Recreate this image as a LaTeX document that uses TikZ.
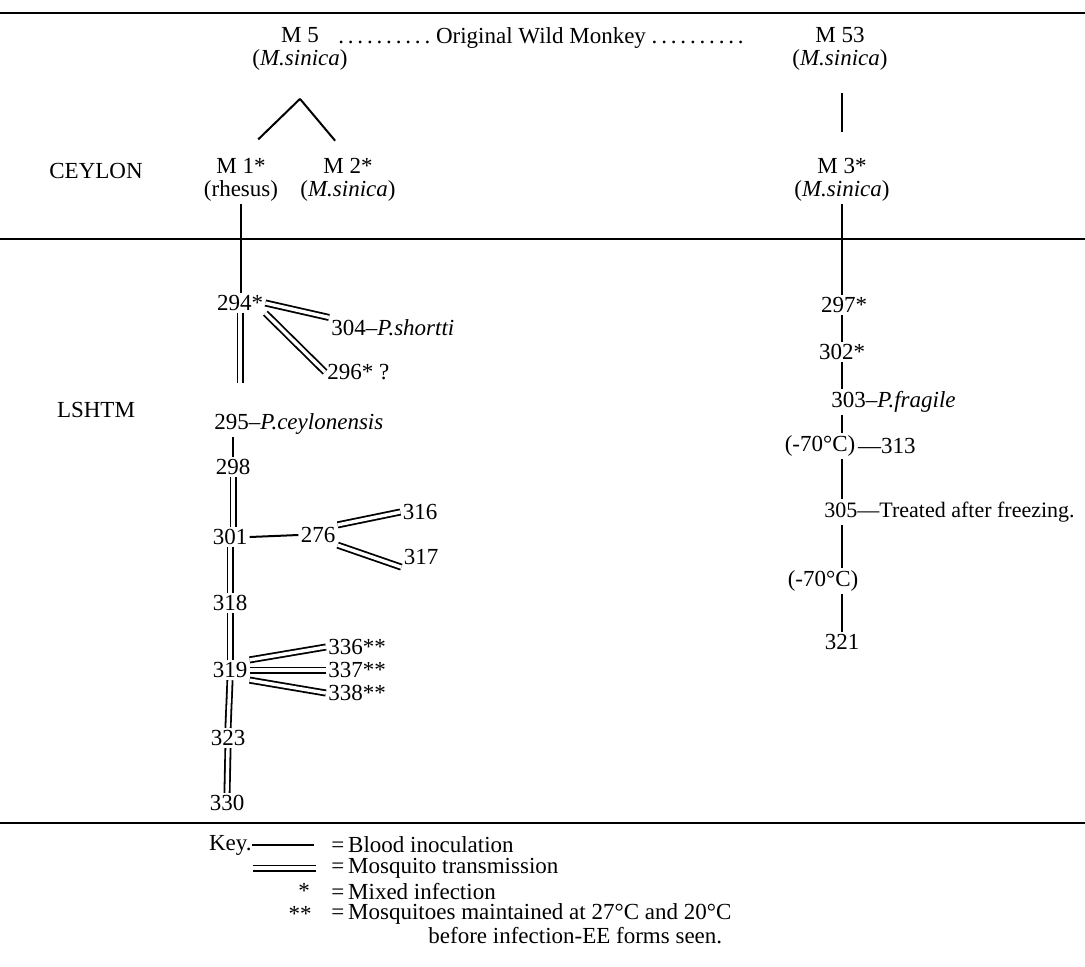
\documentclass[tikz,border=0pt]{standalone}
\usepackage{fontspec}
\setmainfont{Liberation Serif}
\usetikzlibrary{positioning}
\newcommand{\leaderdots}{.\,.\,.\,.\,.\,.\,.\,.\,.\,.}

\begin{document}
\begin{tikzpicture}[x=0.5pt, y=-0.5pt,
  lbl/.style={inner sep=1pt, font=\fontsize{11.5}{11.5}\selectfont, align=center},
  keytext/.style={lbl, inner sep=0pt, anchor=west},
  blood/.style={line width=1pt},
  mosq/.style={double, double distance=1.7pt, line width=0.9pt},
  rule/.style={line width=1.1pt}
]
  \useasboundingbox (0,0) rectangle (1085,966);

  % rules between the sections
  \draw[rule] (0,13) -- (1085,13);
  \draw[rule] (0,239) -- (1085,239);
  \draw[rule] (0,823) -- (1085,823);

  % Ceylon
  \node[lbl] (m5)     at (300,49)  {M 5\\(\textit{M.sinica})};
  \node[lbl] (wild)   at (541,38)  {\leaderdots\ Original Wild Monkey \leaderdots};
  \node[lbl] (m53)    at (840,49)  {M 53\\(\textit{M.sinica})};
  \node[lbl] (ceylon) at (96,171)  {CEYLON};
  \node[lbl] (m1)     at (241,180) {M 1*\\(rhesus)};
  \node[lbl] (m2)     at (348,180) {M 2*\\(\textit{M.sinica})};
  \node[lbl] (m3)     at (842,180) {M 3*\\(\textit{M.sinica})};

  \coordinate (apex) at ([yshift=-13pt]m5.south);
  \draw[blood, shorten >=12pt] (apex) -- (m1.north);
  \draw[blood, shorten >=10pt] (apex) -- (m2.north);
  \draw[blood, shorten <=10pt, shorten >=12pt] (m3.south |- m53.south) -- (m3.north);

  % LSHTM, left line
  \node[lbl] (lshtm) at (96,410) {LSHTM};
  \node[lbl] (n294) at (240,303) {294*};
  \node[lbl, anchor=west] (n304) at (329,328) {304–\textit{P.shortti}};
  \node[lbl, anchor=west] (n296) at (325,372) {296* ?};
  \node[lbl, anchor=west] (n295) at (212,424) {295–\textit{P.ceylonensis}};
  \node[lbl] (n298) at (233,467) {298};
  \node[lbl] (n301) at (230,537) {301};
  \node[lbl] (n276) at (318,535) {276};
  \node[lbl] (n316) at (420,512) {316};
  \node[lbl] (n317) at (421,557) {317};
  \node[lbl] (n318) at (230,603) {318};
  \node[lbl] (n319) at (230,670) {319};
  \node[lbl] (n336) at (357,647) {336**};
  \node[lbl] (n337) at (357,670) {337**};
  \node[lbl] (n338) at (357,693) {338**};
  \node[lbl] (n323) at (228,738) {323};
  \node[lbl] (n330) at (227,803) {330};

  \draw[blood] (m1.south) -- (m1.south |- n294.north);
  \draw[mosq] (n294.east) -- (n304.north west);
  \draw[mosq] (n294.south east) -- (n296.west);
  \draw[mosq, shorten >=14pt] (n294.south) -- (n294.south |- n295.north);
  \draw[blood] (n298.north |- n295.south) -- (n298.north);
  \draw[mosq] (n298.south) -- (n298.south |- n301.north);
  \draw[blood] (n301.east) -- (n276.west);
  \draw[mosq] (n276.north east) -- (n316.west);
  \draw[mosq] (n276.south east) -- (n317.south west);
  \draw[mosq] (n301.south) -- (n318.north);
  \draw[mosq] (n318.south) -- (n319.north);
  \draw[mosq] (n319.north east) -- (n336.west);
  \draw[mosq] (n319.east) -- (n337.west);
  \draw[mosq] (n319.south east) -- (n338.west);
  \draw[mosq] (n319.south) -- (n323.north);
  \draw[mosq] (n323.south) -- (n330.north);

  % LSHTM, right line
  \node[lbl] (n297) at (844,305) {297*};
  \node[lbl] (n302) at (842,352) {302*};
  \node[lbl, anchor=west] (n303) at (829,402) {303–\textit{P.fragile}};
  \node[lbl] (frz1) at (820,446) {(-70°C)};
  \node[lbl, anchor=west, inner sep=0pt] (n313) at (frz1.east) {—313};
  \node[lbl, anchor=west, font=\fontsize{11}{11}\selectfont] (n305) at (822,512) {305—Treated after freezing.};
  \node[lbl] (frz2) at (823,581) {(-70°C)};
  \node[lbl] (n321) at (842,642) {321};

  \draw[blood] (m3.south) -- (m3.south |- n297.north);
  \draw[blood] (n321 |- n297.south) -- (n321 |- n302.north);
  \draw[blood] (n321 |- n302.south) -- (n321 |- n303.north);
  \draw[blood] (n321 |- n303.south) -- (n321 |- frz1.north);
  \draw[blood] (n321 |- frz1.south) -- (n321 |- n305.north);
  \draw[blood] (n321 |- n305.south) -- (n321 |- frz2.north);
  \draw[blood] (n321 |- frz2.south) -- (n321.north);

  % key
  \node[keytext, anchor=east] (keyl) at (252,845) {Key.};
  \coordinate (bl) at (314,845);
  \draw[blood] (keyl.east) -- (bl);
  \node[keytext] (kblood) at (331,845) {=\,Blood inoculation};
  \coordinate (mq1) at (253,868);
  \coordinate (mq2) at (316,868);
  \draw[mosq] (mq1) -- (mq2);
  \node[keytext] (kmosq) at (331,868) {=\,Mosquito transmission};
  \node[keytext, anchor=center] (kstar) at (304,891) {*};
  \node[keytext] (kmixed) at (331,891) {=\,Mixed infection};
  \node[keytext, anchor=center] (kstars) at (300,914) {**};
  \node[keytext] (kmaint) at (331,914) {=\,Mosquitoes maintained at 27°C and 20°C};
  \node[keytext] (kbefore) at (428,936) {before infection-EE forms seen.};
\end{tikzpicture}
\end{document}
